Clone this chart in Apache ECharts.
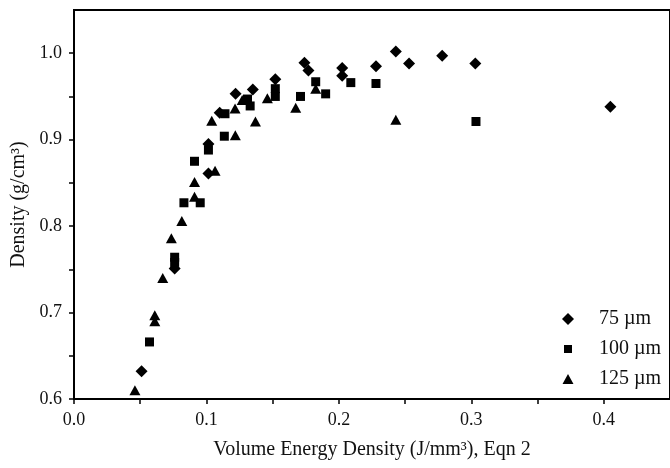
<!DOCTYPE html>
<html>
<head>
<meta charset="utf-8">
<script src="https://cdn.jsdelivr.net/npm/echarts@6/dist/echarts.min.js"></script>
<style>html,body{margin:0;padding:0;background:#fff}#c{width:670px;height:468px}</style>
</head>
<body>
<div id="c"></div>
<script>
const seriesNames = ['75 µm', '100 µm', '125 µm'];
const d75 = [[0.051,0.632],[0.076,0.751],[0.1015,0.861],[0.1015,0.895],[0.110,0.931],[0.122,0.953],[0.135,0.958],[0.152,0.970],[0.174,0.989],[0.177,0.980],[0.2025,0.983],[0.2025,0.974],[0.228,0.985],[0.243,1.002],[0.253,0.988],[0.278,0.997],[0.303,0.988],[0.405,0.938]];
const d100 = [[0.057,0.666],[0.076,0.764],[0.076,0.758],[0.083,0.827],[0.0953,0.827],[0.091,0.875],[0.1015,0.888],[0.1135,0.904],[0.114,0.930],[0.131,0.947],[0.133,0.939],[0.152,0.959],[0.152,0.950],[0.171,0.950],[0.1825,0.967],[0.190,0.953],[0.209,0.966],[0.228,0.965],[0.3035,0.921]];
const d125 = [[0.046,0.610],[0.061,0.697],[0.061,0.690],[0.067,0.740],[0.0735,0.786],[0.0814,0.806],[0.091,0.834],[0.091,0.851],[0.1065,0.864],[0.104,0.922],[0.1218,0.905],[0.1216,0.936],[0.127,0.946],[0.137,0.921],[0.146,0.948],[0.1674,0.937],[0.1825,0.959],[0.243,0.923]];
const xLabels = [0.0, 0.1, 0.2, 0.3, 0.4];
const xTicks = [0.0, 0.05, 0.1, 0.15, 0.2, 0.25, 0.3, 0.35, 0.4];
const yLabels = [0.6, 0.7, 0.8, 0.9, 1.0];
const yTicks = [0.6, 0.65, 0.7, 0.75, 0.8, 0.85, 0.9, 0.95, 1.0];

const FONT = '"Liberation Serif", "DejaVu Serif", serif';
const chart = echarts.init(document.getElementById('c'));
const axisCommon = {
  axisLine: {show: true, lineStyle: {color: '#000', width: 2}},
  axisTick: {show: true, inside: false, length: 5, lineStyle: {color: '#000', width: 1.5}},
  splitLine: {show: false},
  nameLocation: 'middle',
  nameTextStyle: {fontFamily: FONT, fontSize: 20, color: '#111'}
};
chart.setOption({
  backgroundColor: '#fff',
  animation: false,
  grid: {left: 74, top: 10, bottom: 69, right: -3, show: true, borderColor: '#000', borderWidth: 2},
  xAxis: Object.assign({}, axisCommon, {
    type: 'value', min: 0, max: 0.45,
    name: 'Volume Energy Density (J/mm³), Eqn 2', nameGap: 41,
    axisTick: Object.assign({}, axisCommon.axisTick, {customValues: xTicks}),
    axisLabel: {customValues: xLabels, margin: 12, fontFamily: FONT, fontSize: 18, color: '#111', formatter: v => v.toFixed(1)}
  }),
  yAxis: Object.assign({}, axisCommon, {
    type: 'value', min: 0.6, max: 1.05,
    name: 'Density (g/cm³)', nameGap: 42, nameRotate: 90,
    axisTick: Object.assign({}, axisCommon.axisTick, {customValues: yTicks}),
    axisLabel: {customValues: yLabels, margin: 12, fontFamily: FONT, fontSize: 18, color: '#111', formatter: v => v.toFixed(1)}
  }),
  legend: {
    orient: 'vertical', left: 562, top: 309, padding: 0, itemWidth: 12, itemHeight: 12, itemGap: 10,
    textStyle: {fontFamily: FONT, fontSize: 20, color: '#111', padding: [0, 0, 0, 20]},
    data: [
      {name: seriesNames[0], icon: 'diamond'},
      {name: seriesNames[1], icon: 'path://M0,0L0.01,0M2,2L10,2L10,10L2,10ZM12,12L11.99,12'},
      {name: seriesNames[2], icon: 'path://M0,0L0.01,0M6,1L11.5,11L0.5,11ZM12,12L11.99,12'}
    ]
  },
  series: [
    {name: seriesNames[0], type: 'scatter', symbol: 'diamond', symbolSize: 12, itemStyle: {color: '#000', opacity: 1}, data: d75},
    {name: seriesNames[1], type: 'scatter', symbol: 'rect', symbolSize: 9, itemStyle: {color: '#000', opacity: 1}, data: d100},
    {name: seriesNames[2], type: 'scatter', symbol: 'triangle', symbolSize: [11, 10], itemStyle: {color: '#000', opacity: 1}, data: d125}
  ]
});
</script>
</body>
</html>
